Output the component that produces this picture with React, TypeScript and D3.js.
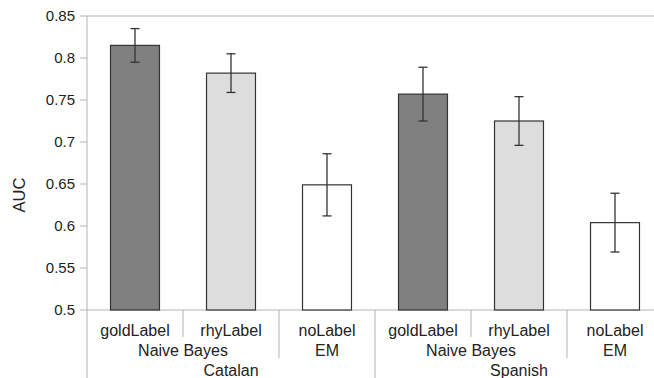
import React, {Component} from 'react';
import * as d3 from "d3"

// data
const categories = ["Catalan NB gold", "Catalan NB rhy", "Catalan EM", "Spanish NB gold", "Spanish NB rhy", "Spanish EM"]
const labels = ["goldLabel", "rhyLabel", "noLabel", "goldLabel", "rhyLabel", "noLabel"]
const auc = [0.815, 0.782, 0.649, 0.757, 0.725, 0.604]
const errors = [0.020, 0.023, 0.037, 0.032, 0.029, 0.035]
const fills = ["#808080", "#dddddd", "#ffffff", "#808080", "#dddddd", "#ffffff"]
const methods = [{name: "Naive Bayes", from: 0, to: 1}, {name: "EM", from: 2, to: 2},
                 {name: "Naive Bayes", from: 3, to: 4}, {name: "EM", from: 5, to: 5}]
const languages = [{name: "Catalan", from: 0, to: 2}, {name: "Spanish", from: 3, to: 5}]
const yTicks = [0.5, 0.55, 0.6, 0.65, 0.7, 0.75, 0.8, 0.85]

interface AucChartProps {}

class AucChart extends Component<AucChartProps> {
    ref = React.createRef<SVGSVGElement>()

    renderChart(){
      const width = 654
      const height = 378
      const margin = ({top: 16, right: -9, bottom: 68, left: 87})
      const font = "'Liberation Sans', Arial, sans-serif"
      const axisColor = "#b3b3b3"

      const svg = d3.select(this.ref.current)
      svg.selectAll("*").remove()

      let x = d3.scaleBand()
                .domain(categories)
                .range([margin.left, width - margin.right])
                .paddingInner(0.49)
                .paddingOuter(0.245)

      let y = d3.scaleLinear()
                .domain([0.5, 0.85])
                .range([height - margin.bottom, margin.top])

      const step = x.step()
      const left = (i:number) => margin.left + i*step
      const y0 = y(0.5)

      // frame: top line, axis lines
      svg.append("line").attr("x1", margin.left).attr("x2", width - margin.right)
        .attr("y1", y(0.85)).attr("y2", y(0.85)).attr("stroke", axisColor)
      svg.append("line").attr("x1", margin.left).attr("x2", width - margin.right)
        .attr("y1", y0).attr("y2", y0).attr("stroke", axisColor)
      svg.append("line").attr("x1", margin.left).attr("x2", margin.left)
        .attr("y1", y(0.85)).attr("y2", height).attr("stroke", axisColor)

      // y ticks
      const yAxis = svg.append("g")
      yAxis.selectAll("line").data(yTicks).join("line")
        .attr("x1", margin.left - 7).attr("x2", margin.left)
        .attr("y1", d => y(d)).attr("y2", d => y(d))
        .attr("stroke", axisColor)
      yAxis.selectAll("text").data(yTicks).join("text")
        .attr("x", margin.left - 12).attr("y", d => y(d))
        .attr("dy", "0.36em")
        .attr("text-anchor", "end")
        .attr("font-family", font).attr("font-size", 15).attr("fill", "#222")
        .text(d => String(+d.toFixed(2)))

      svg.append("text")
        .attr("transform", `translate(25,195) rotate(-90)`)
        .attr("text-anchor", "middle")
        .attr("font-family", font).attr("font-size", 16.5).attr("fill", "#222")
        .text("AUC")

      // category separators (deeper for outer levels)
      const separators = [
        {i: 1, depth: 27}, {i: 2, depth: 48}, {i: 3, depth: 68},
        {i: 4, depth: 27}, {i: 5, depth: 48}, {i: 6, depth: 68}]
      svg.append("g").selectAll("line").data(separators).join("line")
        .attr("x1", d => left(d.i)).attr("x2", d => left(d.i))
        .attr("y1", y0).attr("y2", d => y0 + d.depth)
        .attr("stroke", axisColor)

      // bars
      svg.append("g").selectAll("rect").data(categories).join("rect")
        .attr("x", d => x(d) as number)
        .attr("y", (d, i) => y(auc[i]))
        .attr("width", x.bandwidth())
        .attr("height", (d, i) => y0 - y(auc[i]))
        .attr("fill", (d, i) => fills[i])
        .attr("stroke", "#333")
        .attr("stroke-width", 1.2)

      // error bars
      const eb = svg.append("g").attr("stroke", "#333").attr("stroke-width", 1.3)
      categories.forEach((c, i) => {
        const cx = (x(c) as number) + x.bandwidth()/2
        const hi = y(auc[i] + errors[i])
        const lo = y(auc[i] - errors[i])
        eb.append("line").attr("x1", cx).attr("x2", cx).attr("y1", hi).attr("y2", lo)
        eb.append("line").attr("x1", cx - 4.5).attr("x2", cx + 4.5).attr("y1", hi).attr("y2", hi)
        eb.append("line").attr("x1", cx - 4.5).attr("x2", cx + 4.5).attr("y1", lo).attr("y2", lo)
      })

      // labels, three levels
      const lab = svg.append("g").attr("font-family", font).attr("font-size", 16)
        .attr("fill", "#222").attr("text-anchor", "middle")
      lab.selectAll(".l1").data(categories).join("text").attr("class", "l1")
        .attr("x", d => (x(d) as number) + x.bandwidth()/2)
        .attr("y", y0 + 26)
        .text((d, i) => labels[i])
      lab.selectAll(".l2").data(methods).join("text").attr("class", "l2")
        .attr("x", d => (left(d.from) + left(d.to + 1))/2)
        .attr("y", y0 + 46)
        .text(d => d.name)
      lab.selectAll(".l3").data(languages).join("text").attr("class", "l3")
        .attr("x", d => (left(d.from) + left(d.to + 1))/2)
        .attr("y", y0 + 66)
        .text(d => d.name)
    }

    componentDidMount(){
      this.renderChart()
    }

    public render() : JSX.Element {
        return (
          <svg ref={this.ref} width={654} height={378}
               style={{position: "absolute", left: 0, top: 0, background: "#fff"}} />
        )
    }
}

export default function App() {
  return <AucChart />
}
